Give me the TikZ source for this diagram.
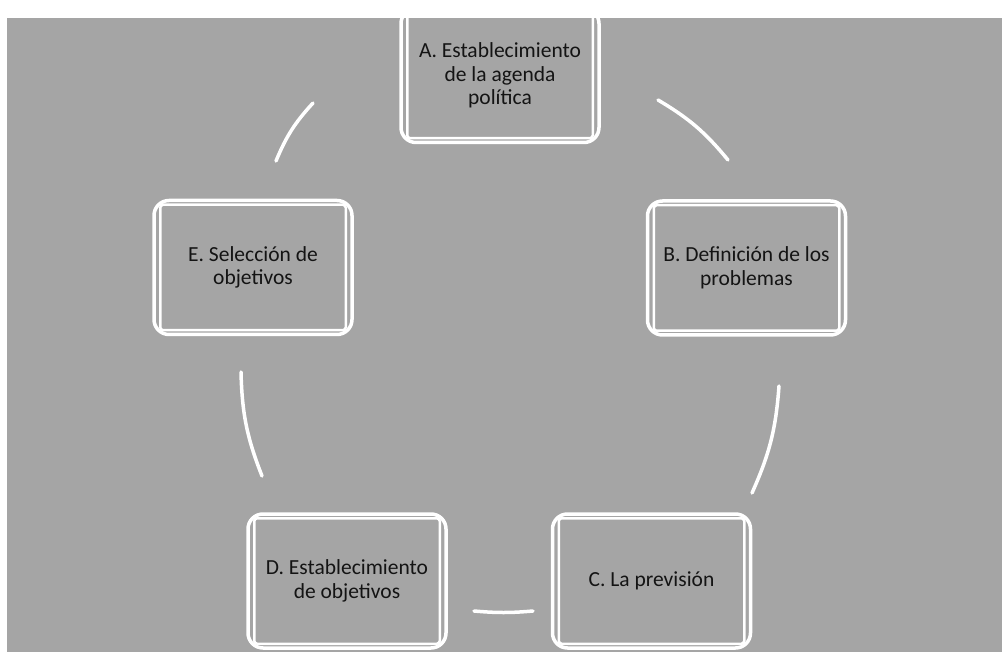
\documentclass[tikz,border=0pt]{standalone}
\usepackage{fontspec}
\setmainfont{Carlito}
\definecolor{backcolor}{RGB}{165,165,165}
\definecolor{textcolor}{RGB}{20,20,20}

\begin{document}
\begin{tikzpicture}[x=1pt, y=-1pt,
    stage/.style={draw=white, line width=3.5pt, rounded corners=15pt,
      minimum width=198pt, minimum height=134pt, align=center,
      text=textcolor, font=\fontsize{21.5}{23.5}\selectfont},
    innerline/.style={draw=white, line width=2.5pt, rounded corners=3pt},
    link/.style={draw=white, line width=3.5pt, line cap=round}]
      \useasboundingbox (0,0) rectangle (1002,652);
      \fill[backcolor] (7,18) rectangle (1002,652);

      % the five stages
      \node[stage] (A) at (500,75.5) {A. Establecimiento\\de la agenda\\política};
      \node[stage] (B) at (746.5,268) {B. Definición de los\\problemas};
      \node[stage] (C) at (651.5,581) {C. La previsión};
      \node[stage] (D) at (347,581) {D. Establecimiento\\de objetivos};
      \node[stage] (E) at (253,267.5) {E. Selección de\\objetivos};

      \foreach \n in {A,B,C,D,E}{
        \draw[innerline] ([shift={(8pt,-6pt)}]\n.north west) rectangle ([shift={(-8pt,6pt)}]\n.south east);
      }

      % arc pieces between the stages
      \coordinate (ab1) at (658,100);  \coordinate (ab2) at (728,160);
      \coordinate (bc1) at (779,386);  \coordinate (bc2) at (752,493);
      \coordinate (cd1) at (533,611);  \coordinate (cd2) at (474,611);
      \coordinate (de1) at (262,476);  \coordinate (de2) at (241,372);
      \coordinate (ea1) at (276,161);  \coordinate (ea2) at (313,103);

      \draw[link] (ab1) to[bend left=10] (ab2);
      \draw[link] (bc1) to[bend left=10] (bc2);
      \draw[link] (cd1) to[bend left=5] (cd2);
      \draw[link] (de1) to[bend left=10] (de2);
      \draw[link] (ea1) to[bend left=10] (ea2);
\end{tikzpicture}
\end{document}
